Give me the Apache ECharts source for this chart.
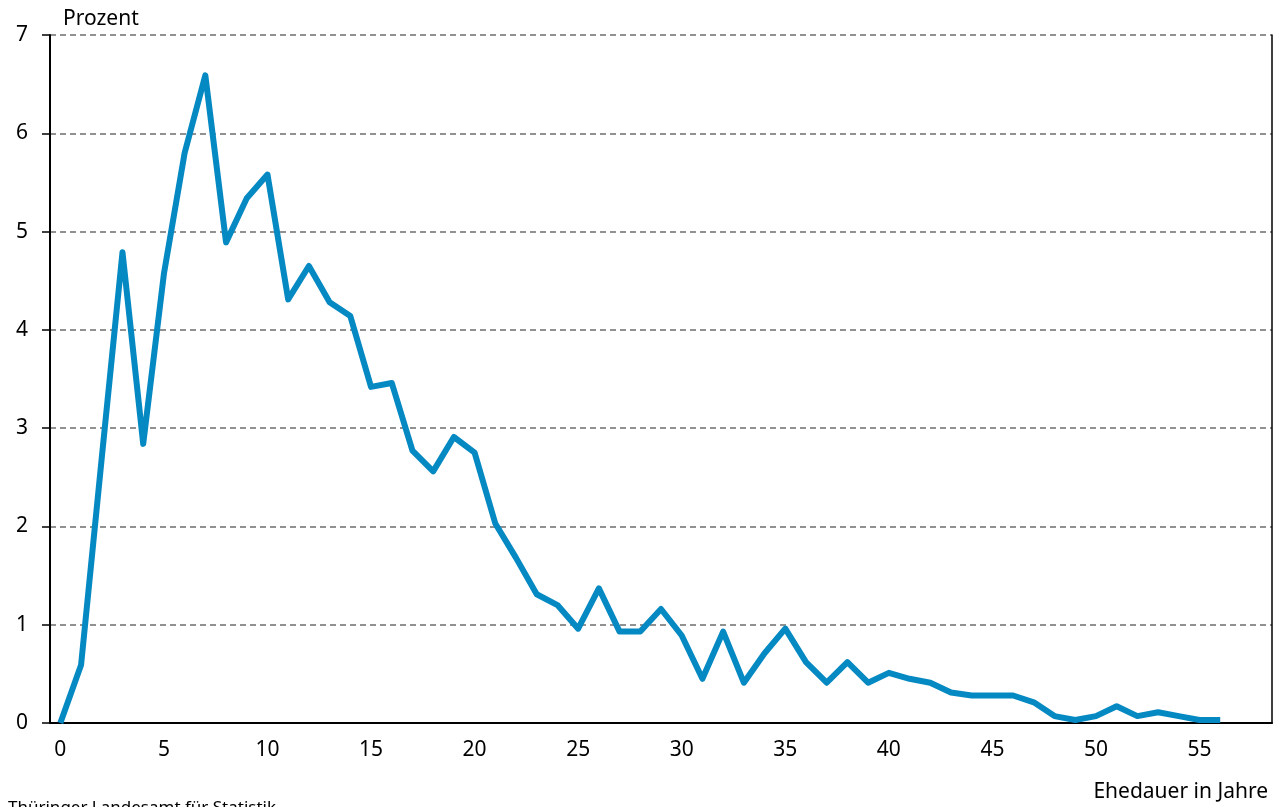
<!DOCTYPE html>
<html>
<head>
<meta charset="utf-8">
<title>Ehedauer</title>
<script src="https://cdn.jsdelivr.net/npm/echarts@6/dist/echarts.min.js"></script>
<style>
	html, body { margin: 0; padding: 0; background: #fff; }
	#chart { width: 1284px; height: 807px; }
</style>
</head>
<body>
<div id="chart"></div>
<script>
// Ehedauer in Jahren (0..58), Werte nur bis 56
var years = [];
for (var y = 0; y <= 58; y++) years.push(String(y));

// Anteil in Prozent
var prozent = [
	0, 0.59, 2.7, 4.79, 2.84, 4.57, 5.80, 6.59, 4.89, 5.34,
	5.58, 4.31, 4.65, 4.28, 4.14, 3.42, 3.46, 2.77, 2.56, 2.91,
	2.75, 2.03, 1.68, 1.31, 1.20, 0.96, 1.37, 0.93, 0.93, 1.16,
	0.89, 0.45, 0.93, 0.41, 0.71, 0.96, 0.62, 0.41, 0.62, 0.41,
	0.51, 0.45, 0.41, 0.31, 0.28, 0.28, 0.28, 0.21, 0.07, 0.03,
	0.07, 0.17, 0.07, 0.11, 0.07, 0.03, 0.03
];

var yTicks = [0, 1, 2, 3, 4, 5, 6, 7];

var fontFam = '"Noto Sans", sans-serif';

function initChart() {
	var chart = echarts.init(document.getElementById('chart'));
	var option = {
		animation: false,
		backgroundColor: '#fff',
		textStyle: { fontFamily: fontFam },
		grid: { left: 50, right: 12, top: 35, bottom: 84 },
		graphic: [
			{
				type: 'text', left: 63, top: 9,
				style: { text: 'Prozent', fontSize: 21, fontFamily: fontFam, fill: '#000' }
			},
			{
				type: 'text', right: 16, top: 782,
				style: { text: 'Ehedauer in Jahre', fontSize: 21, fontFamily: fontFam, fill: '#000' }
			},
			{
				type: 'text', left: 8, top: 800,
				style: { text: 'Thüringer Landesamt für Statistik', fontSize: 17, fontFamily: fontFam, fill: '#000' }
			}
		],
		xAxis: {
			type: 'category',
			data: years,
			boundaryGap: true,
			axisLine: { lineStyle: { color: '#000', width: 2 } },
			axisTick: { show: false },
			axisLabel: {
				interval: 4,
				margin: 17,
				fontSize: 21,
				color: '#000',
				fontFamily: fontFam
			},
			splitLine: { show: false }
		},
		yAxis: [
			{
				type: 'value',
				min: yTicks[0],
				max: yTicks[yTicks.length - 1],
				interval: 1,
				axisLine: { show: true, lineStyle: { color: '#000', width: 2 } },
				axisTick: { show: true, length: 8, lineStyle: { color: '#000', width: 1.5 } },
				axisLabel: {
					margin: 22,
					fontSize: 21,
					color: '#000',
					fontFamily: fontFam
				},
				splitLine: {
					show: true,
					lineStyle: { color: '#6e6e6e', type: [6, 4], width: 1.5 }
				}
			},
			{
				// rechter Rahmen
				type: 'value',
				position: 'right',
				min: 0,
				max: 7,
				interval: 1,
				axisLine: { show: true, lineStyle: { color: '#000', width: 1.5 } },
				axisTick: { show: false },
				axisLabel: { show: false },
				splitLine: { show: false }
			}
		],
		series: [{
			type: 'line',
			data: prozent,
			symbol: 'none',
			lineStyle: { color: '#0589c2', width: 6, join: 'round' },
			itemStyle: { color: '#0589c2' }
		}]
	};
	chart.setOption(option);
}

initChart();
</script>
</body>
</html>
